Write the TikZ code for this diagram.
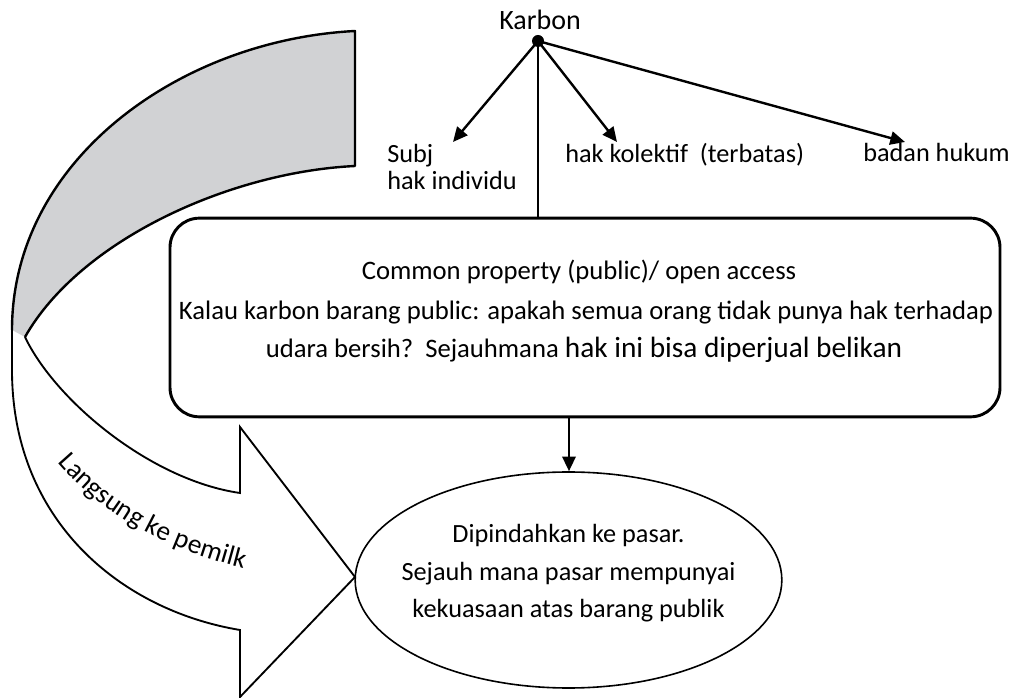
\documentclass[tikz,border=0pt]{standalone}
\usepackage{fontspec}
\setmainfont{Carlito}
\usetikzlibrary{arrows.meta,decorations.text,shapes.geometric}
\definecolor{bandgray}{RGB}{209,210,212}
\begin{document}
\begin{tikzpicture}[x=0.75pt,y=-0.75pt,
  lbl/.style={inner sep=0pt, font=\fontsize{19.7}{20.3}\selectfont},
  boxtxt/.style={inner sep=0pt, font=\fontsize{20}{24}\selectfont},
  mkttxt/.style={inner sep=0pt, font=\fontsize{19.7}{24}\selectfont},
  tree/.style={line width=1.8pt, -{Triangle[length=11pt,width=10pt]}},
  bigbox/.style={draw, line width=2.2pt, rounded corners=22pt, inner sep=0pt},
  oval/.style={draw, ellipse, line width=1.2pt, inner sep=0pt},
  bandline/.style={line width=1.8pt, line join=round}
]
\useasboundingbox (0,0) rectangle (1015,698);

% curved arrow: shaded back band
\fill[bandgray] (355,31) .. controls (180,40) and (12,160) .. (12,330)
  -- (25,337) .. controls (80,240) and (230,172) .. (355,166) -- cycle;
\draw[bandline] (12,330) .. controls (12,160) and (180,40) .. (355,31)
  -- (355,166) .. controls (230,172) and (80,240) .. (25,337);
% curved arrow: front part with head
\draw[line width=1.4pt, line join=miter] (12,328) -- (12,370)
  .. controls (12,520) and (120,610) .. (240,630)
  -- (240,697) -- (355,577) -- (240,427) -- (240,493)
  .. controls (150,480) and (55,400) .. (25,337);
\path[decorate, decoration={text along path, text align=center,
  text={|\fontsize{20.5}{20.5}\selectfont|Langsung ke pemilk}}]
  (56,461) .. controls (98,511) and (160,548) .. (246,569);

% root of the tree
\node[lbl, anchor=base, font=\fontsize{21}{22}\selectfont] (karbon) at (540,30) {Karbon};
\node[circle, fill, inner sep=0pt, minimum size=9pt] (dot) at (538,41) {};

% leaves
\node[lbl, anchor=base west] (subj) at (387,163) {Subj};
\node[lbl, anchor=base west] (indiv) at (387,190) {hak individu};
\node[lbl, anchor=base west] (kol) at (565,163) {hak kolektif\ \ (terbatas)};
\node[lbl, anchor=base west] (badan) at (863,162) {badan hukum};
\coordinate (tipS) at (453,142);
\coordinate (tipK) at (617,142);
\coordinate (tipB) at (905,142);
\draw[tree] (dot.center) -- (tipS);
\draw[tree] (dot.center) -- (tipK);
\draw[tree] (dot.center) -- (tipB);

% central box
\node[bigbox, minimum width=622.5pt, minimum height=149pt] (box) at (585,317.5) {};
\draw[line width=1.8pt] (dot.center) -- (dot |- box.north);
\node[boxtxt, anchor=base] (l1) at (579,280) {Common property (public)/ open access};
\node[boxtxt, anchor=base] (l2) at (586,320) {Kalau karbon barang public: apakah semua orang tidak punya hak terhadap};
\node[boxtxt, anchor=base] (l3) at (584,358) {udara bersih?\ \ Sejauhmana {\fontsize{22}{26}\selectfont hak ini bisa diperjual belikan}};

% market ellipse
\node[oval, minimum width=320pt, minimum height=162pt] (mkt) at (568.5,580) {};
\coordinate (drop) at (569,417);
\draw[tree] (drop) -- (drop |- mkt.north);
\node[mkttxt, anchor=base] (m1) at (568.5,543) {Dipindahkan ke pasar.};
\node[mkttxt, anchor=base] (m2) at (568.5,581) {Sejauh mana pasar mempunyai};
\node[mkttxt, anchor=base] (m3) at (568.5,618) {kekuasaan atas barang publik};
\end{tikzpicture}
\end{document}
